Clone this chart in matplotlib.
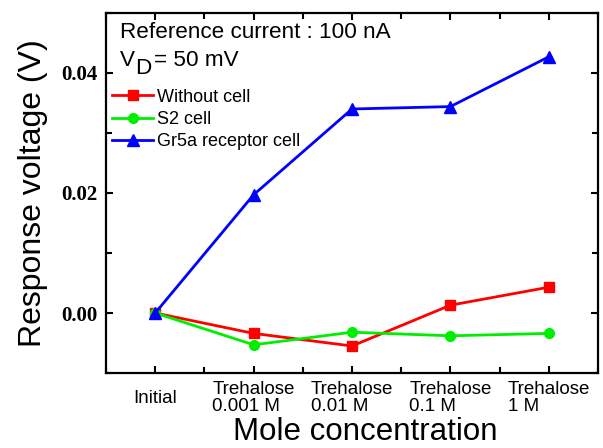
import matplotlib
matplotlib.use("Agg")
import matplotlib.pyplot as plt
from matplotlib.ticker import MultipleLocator

plt.rcParams['font.family'] = ['Liberation Sans', 'DejaVu Sans']

categories = ["Initial", "Trehalose\n0.001 M", "Trehalose\n0.01 M",
              "Trehalose\n0.1 M", "Trehalose\n1 M"]
without_cell = [0.0, -0.0034, -0.0055, 0.0013, 0.0043]
s2_cell = [0.0, -0.0053, -0.0032, -0.0038, -0.0034]
gr5a_cell = [0.0, 0.0197, 0.0340, 0.0344, 0.0427]

x = range(len(categories))

fig = plt.figure(figsize=(6.03, 4.48), dpi=100)
ax = fig.add_axes([0.1758, 0.1674, 0.8159, 0.8036])

ax.plot(x, without_cell, color='red', lw=2, marker='s', ms=6.5, label='Without cell')
ax.plot(x, s2_cell, color='#00ee00', lw=2, marker='o', ms=7, label='S2 cell')
ax.plot(x, gr5a_cell, color='blue', lw=2, marker='^', ms=8, label='Gr5a receptor cell')

ax.set_xlim(-0.5, 4.5)
ax.set_ylim(-0.01, 0.05)
ax.set_xticks(list(x))
ax.set_xticklabels(categories, va='center', multialignment='left',
                   fontsize=13.5, linespacing=0.95)
ax.xaxis.set_minor_locator(MultipleLocator(0.5))
ax.yaxis.set_minor_locator(MultipleLocator(0.01))
ax.set_yticks([0.0, 0.02, 0.04])
ax.set_yticklabels(['0.00', '0.02', '0.04'], family='Liberation Serif',
                   fontweight='bold', fontsize=15)

ax.tick_params(axis='both', which='both', direction='in', top=True, right=True, width=1.5)
ax.tick_params(axis='both', which='major', length=5)
ax.tick_params(axis='both', which='minor', length=4)
ax.tick_params(axis='x', which='major', pad=18)
ax.tick_params(axis='y', which='major', pad=6)
for sp in ax.spines.values():
    sp.set_linewidth(1.6)

ax.set_ylabel('Response voltage (V)', fontsize=23, labelpad=10)
ax.set_xlabel('Mole concentration', fontsize=22.5)
ax.xaxis.set_label_coords(0.526, -0.122)

# annotation text
ax.text(0.029, 0.945, 'Reference current : 100 nA', transform=ax.transAxes, fontsize=16.2,
        va='center')
tv = ax.text(0.029, 0.84, 'V', transform=ax.transAxes, fontsize=16.2, va='bottom')
td = ax.annotate('D', xy=(1, 0), xycoords=tv, xytext=(0, -6), textcoords='offset points',
                 fontsize=16.2, va='bottom')
ax.annotate('= 50 mV', xy=(1, 0), xycoords=td, xytext=(2, 6), textcoords='offset points',
            fontsize=16.2, va='bottom')

ax.legend(loc='upper left', bbox_to_anchor=(0.012, 0.79), frameon=False, fontsize=13,
          borderpad=0, borderaxespad=0, handlelength=2.3, handletextpad=0.2,
          labelspacing=0.3)

fig.savefig('out.png', dpi=100)
